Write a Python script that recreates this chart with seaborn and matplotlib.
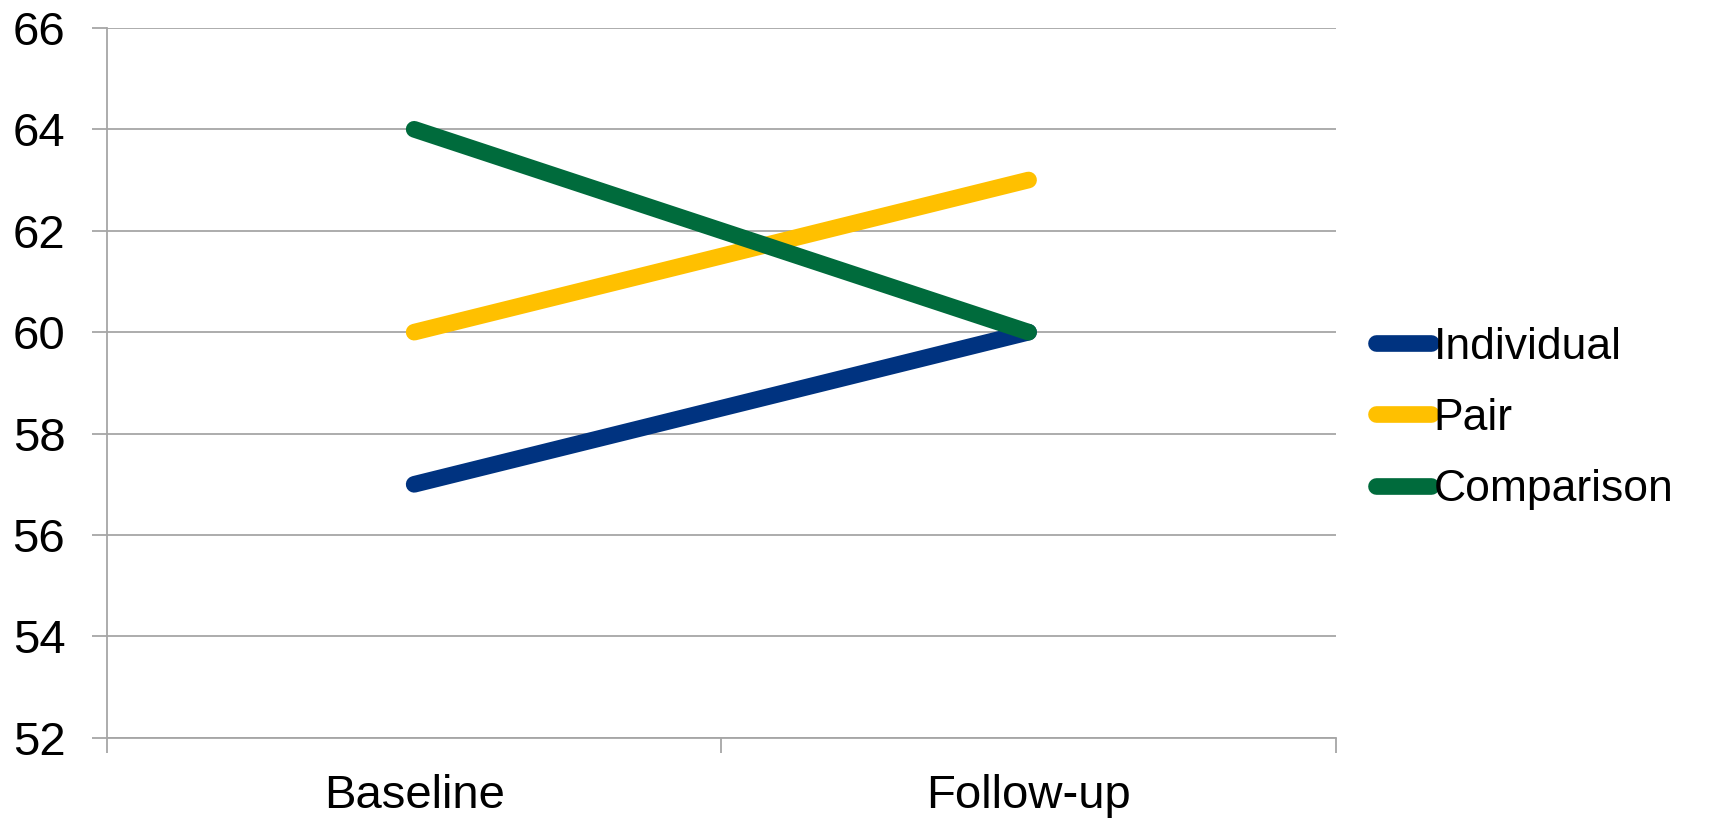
import matplotlib
matplotlib.use("Agg")
import matplotlib.pyplot as plt
from matplotlib.ticker import FixedLocator
import seaborn as sns
import pandas as pd

# data
timepoints = ["Baseline", "Follow-up"]
individual = [57, 60]
pair = [60, 63]
comparison = [64, 60]

groups = ["Individual", "Pair", "Comparison"]
colors = ["#003380", "#FFC000", "#006B3C"]

df = pd.DataFrame({
    "time": timepoints * 3,
    "score": individual + pair + comparison,
    "group": [g for g in groups for _ in timepoints],
})

sns.set_theme(style="white")
plt.rcParams["font.family"] = ["Liberation Sans", "DejaVu Sans"]
plt.rcParams["text.color"] = "black"
plt.rcParams["xtick.labelcolor"] = "black"
plt.rcParams["ytick.labelcolor"] = "black"

fig = plt.figure(figsize=(17.09, 8.19), dpi=100)
ax = fig.add_axes([0.0626, 0.099, 0.719, 0.867])

sns.lineplot(data=df, x="time", y="score", hue="group", hue_order=groups,
             palette=colors, linewidth=12, ax=ax, legend=True,
             solid_capstyle="round")

ax.set_xlim(-0.5, 1.5)
ax.set_ylim(52, 66)
ax.set_yticks(range(52, 67, 2))
ax.grid(axis="y", color="#A6A6A6", linewidth=1.3)
ax.grid(axis="x", visible=False)
ax.set_axisbelow(True)

for s in ["top", "right"]:
    ax.spines[s].set_visible(False)
for s in ["left", "bottom"]:
    ax.spines[s].set_color("#A6A6A6")
    ax.spines[s].set_linewidth(1.3)

ax.xaxis.set_minor_locator(FixedLocator([-0.5, 0.5, 1.5]))
ax.tick_params(axis="x", which="major", length=0, pad=26, labelsize=34)
ax.tick_params(axis="x", which="minor", bottom=True, length=10.5,
               width=1.3, color="#A6A6A6")
ax.tick_params(axis="y", left=True, length=11, width=1.3, color="#A6A6A6",
               pad=19, labelsize=34)
ax.set_xlabel("")
ax.set_ylabel("")

leg = ax.legend(loc="center left", bbox_to_anchor=(1.018, 0.45), frameon=False,
                fontsize=32, handlelength=1.25, handletextpad=0.05,
                labelspacing=0.68, borderaxespad=0)
for line in leg.get_lines():
    line.set_linewidth(12)
    line.set_solid_capstyle("round")

fig.savefig("out.png", dpi=100)
